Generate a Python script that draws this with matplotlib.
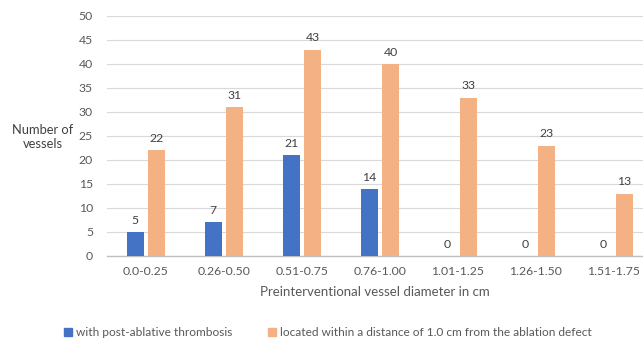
import matplotlib
matplotlib.use("Agg")
import matplotlib.pyplot as plt
import numpy as np
from matplotlib.patches import Rectangle

categories = ["0.0-0.25", "0.26-0.50", "0.51-0.75", "0.76-1.00", "1.01-1.25", "1.26-1.50", "1.51-1.75"]
thrombosis = [5, 7, 21, 14, 0, 0, 0]
within_1cm = [22, 31, 43, 40, 33, 23, 13]
series_names = ["with post-ablative thrombosis",
                "located within a distance of 1.0 cm from the ablation defect"]
yticks = list(range(0, 51, 5))

plt.rcParams['font.family'] = ['Lato', 'DejaVu Sans']
txt = '#595959'
blue = '#4472C4'
orange = '#F4B183'

W, H = 643, 338
fig = plt.figure(figsize=(W/100, H/100), dpi=100)
ax = fig.add_axes([107/W, 1-256/H, 1-107/W, (256-16)/H])

x = np.arange(len(categories))
bw = 0.22
b1 = ax.bar(x - 0.135, thrombosis, bw, color=blue, zorder=3)
b2 = ax.bar(x + 0.14, within_1cm, bw, color=orange, zorder=3)
for rects, vals in ((b1, thrombosis), (b2, within_1cm)):
    for r, v in zip(rects, vals):
        ax.annotate(str(v), (r.get_x() + r.get_width()/2, v), xytext=(0, 4.5),
                    textcoords='offset points', ha='center', va='bottom',
                    fontsize=8.8, color='#404040')

ax.set_xlim(-0.5, 6.38)
ax.set_ylim(0, 50)
ax.set_yticks(yticks)
ax.set_xticks(x)
ax.set_xticklabels(categories)
ax.yaxis.grid(True, color='#D9D9D9', linewidth=0.8, zorder=0)
for s in ['top', 'right', 'left']:
    ax.spines[s].set_visible(False)
ax.spines['bottom'].set_color('#BFBFBF')
ax.spines['bottom'].set_linewidth(1.0)
ax.tick_params(axis='both', length=0, labelsize=8.8, colors=txt)
ax.tick_params(axis='y', pad=10)
ax.tick_params(axis='x', pad=7)

ax.set_xlabel("Preinterventional vessel diameter in cm", fontsize=9.5, color=txt, labelpad=7)
fig.text(43/W, 1-137/H, "Number of\nvessels", ha='center', va='center', fontsize=9.3,
         color='#404040', linespacing=1.3)

# legend
ly = 1 - 332/H
sq = 8
fig.patches.append(Rectangle((64/W, ly - (sq/2)/H), sq/W, sq/H, transform=fig.transFigure,
                             color=blue, figure=fig))
fig.text(76/W, ly, series_names[0], ha='left', va='center', fontsize=8.6, color=txt)
fig.patches.append(Rectangle((268/W, ly - (sq/2)/H), sq/W, sq/H, transform=fig.transFigure,
                             color=orange, figure=fig))
fig.text(280/W, ly, series_names[1], ha='left', va='center', fontsize=8.6, color=txt)

fig.savefig("out.png", dpi=100)
